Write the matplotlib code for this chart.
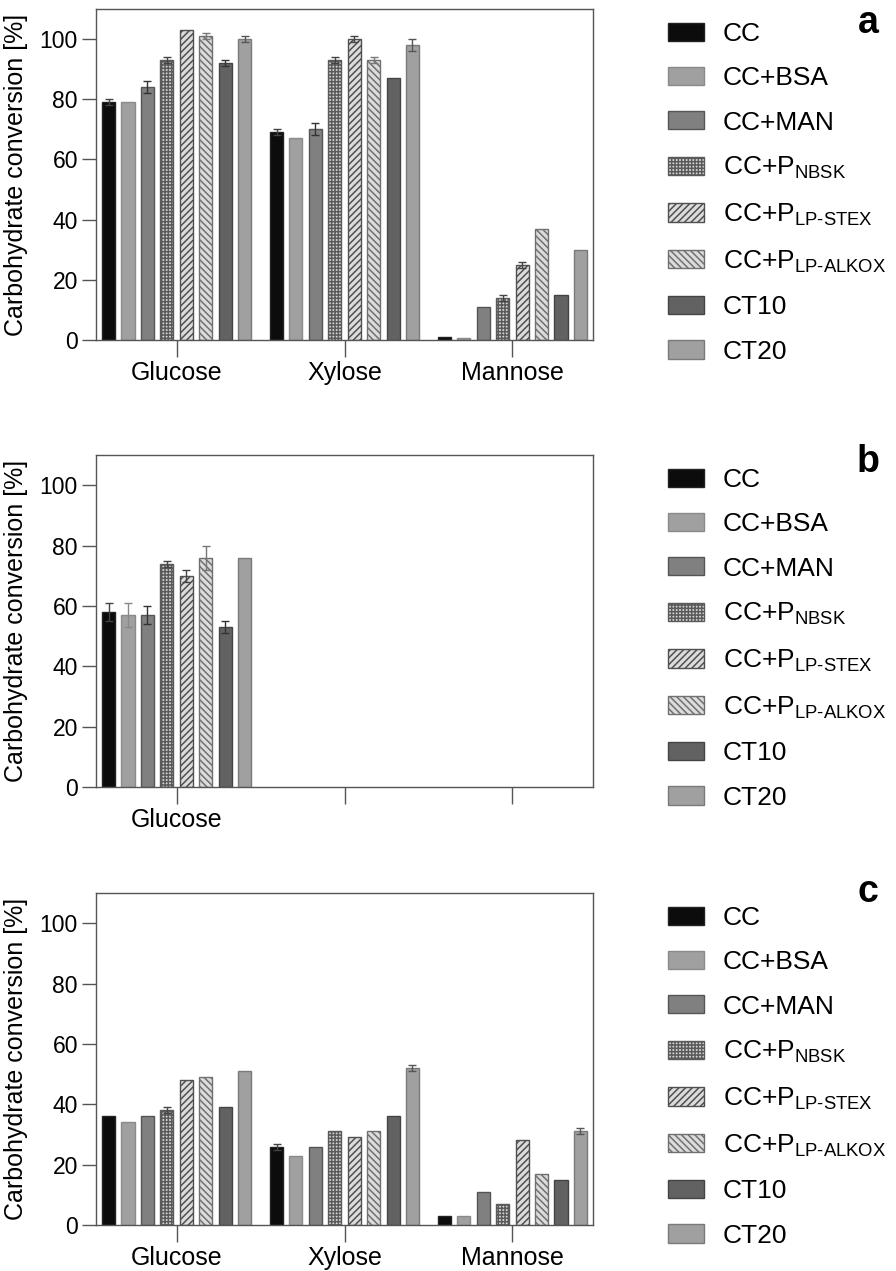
import numpy as np
import matplotlib.pyplot as plt

plt.rcParams['font.family'] = ['Liberation Sans', 'DejaVu Sans']
plt.rcParams['mathtext.fontset'] = 'custom'
plt.rcParams['mathtext.rm'] = 'Liberation Sans'
plt.rcParams['hatch.linewidth'] = 1.1

sugars = ['Glucose', 'Xylose', 'Mannose']
series = ['CC', 'CC+BSA', 'CC+MAN',
          'CC+P$_{\\mathregular{NBSK}}$',
          'CC+P$_{\\mathregular{LP\u2010STEX}}$',
          'CC+P$_{\\mathregular{LP\u2010ALKOX}}$',
          'CT10', 'CT20']

# rows = series, columns = sugars (Glucose, Xylose, Mannose)
a_vals = [[79, 69, 1], [79, 67, 0.5], [84, 70, 11], [93, 93, 14],
          [103, 100, 25], [101, 93, 37], [92, 87, 15], [100, 98, 30]]
a_err = [[1, 1, 0], [0, 0, 0], [2, 2, 0], [1, 1, 1],
         [0, 1, 1], [1, 1, 0], [1, 0, 0], [1, 2, 0]]

# panel b: glucose only
b_vals = [[58], [57], [57], [74], [70], [76], [53], [76]]
b_err = [[3], [4], [3], [1], [2], [4], [2], [0]]

c_vals = [[36, 26, 3], [34, 23, 3], [36, 26, 11], [38, 31, 7],
          [48, 29, 28], [49, 31, 17], [39, 36, 15], [51, 52, 31]]
c_err = [[0, 1, 0], [0, 0, 0], [0, 0, 0], [1, 0, 0],
         [0, 0, 0], [0, 0, 0], [0, 0, 0], [0, 1, 1]]

# styles per series
faces = ['#0c0c0c', '#a0a0a0', '#808080', '#d8d8d8', '#dcdcdc', '#dcdcdc', '#626262', '#a0a0a0']
edges = ['#222222', '#8a8a8a', '#555555', '#5a5a5a', '#505050', '#707070', '#444444', '#7a7a7a']
hatches = [None, None, None, '+++++', '/////', '\\\\\\\\\\', None, None]
ecols = ['#444444', '#888888', '#333333', '#444444', '#444444', '#777777', '#333333', '#555555']

W, H = 896, 1271
fig = plt.figure(figsize=(W / 100, H / 100), dpi=100)

panels = [
    ('a', a_vals, a_err, 9, 340, 32, 33),
    ('b', b_vals, b_err, 455, 787, 478, 472),
    ('c', c_vals, c_err, 893, 1225, 916, 902),
]

step = 0.1157
width = 0.078

for letter, vals, errs, top, bot, leg_y, let_y in panels:
    ax = fig.add_axes([96 / W, 1 - bot / H, 497 / W, (bot - top) / H])
    for i, name in enumerate(series):
        v = np.array(vals[i], dtype=float)
        e = np.array(errs[i], dtype=float)
        x = np.arange(len(v)) + (i - 3.5) * step
        ax.bar(x, v, width, color=faces[i], edgecolor=edges[i], hatch=hatches[i],
               linewidth=1.0, label=name, zorder=2)
        m = e > 0
        if m.any():
            ax.errorbar(x[m], v[m], yerr=e[m], fmt='none', ecolor=ecols[i],
                        elinewidth=1.0, capsize=3, capthick=1.0, zorder=3)

    ax.set_xlim(-0.48, 2.48)
    ax.set_ylim(0, 110)
    ax.set_xticks([0, 1, 2])
    if letter == 'b':
        ax.set_xticklabels(['Glucose', '', ''])
    else:
        ax.set_xticklabels(sugars)
    ax.set_yticks([0, 20, 40, 60, 80, 100])
    ax.tick_params(axis='x', length=12, width=1, color='#555555', labelsize=18, pad=3)
    ax.tick_params(axis='y', length=10, width=1, color='#555555', labelsize=16.5, pad=3)
    for sp in ax.spines.values():
        sp.set_color('#555555')
        sp.set_linewidth(1.0)
    ax.set_ylabel('Carbohydrate conversion [%]', fontsize=18)
    ax.yaxis.set_label_coords(-0.137, 0.5)

    ax.legend(loc='upper left', bbox_to_anchor=(668 / W, 1 - (leg_y - 10) / H),
              bbox_transform=fig.transFigure, frameon=False, fontsize=19,
              handlelength=1.36, handleheight=0.68, handletextpad=0.72,
              labelspacing=0.77, borderpad=0, borderaxespad=0)

    fig.text(868 / W, 1 - let_y / H, letter, ha='center', va='baseline',
             fontsize=27, fontweight='bold')

fig.savefig('out.png', dpi=100)
